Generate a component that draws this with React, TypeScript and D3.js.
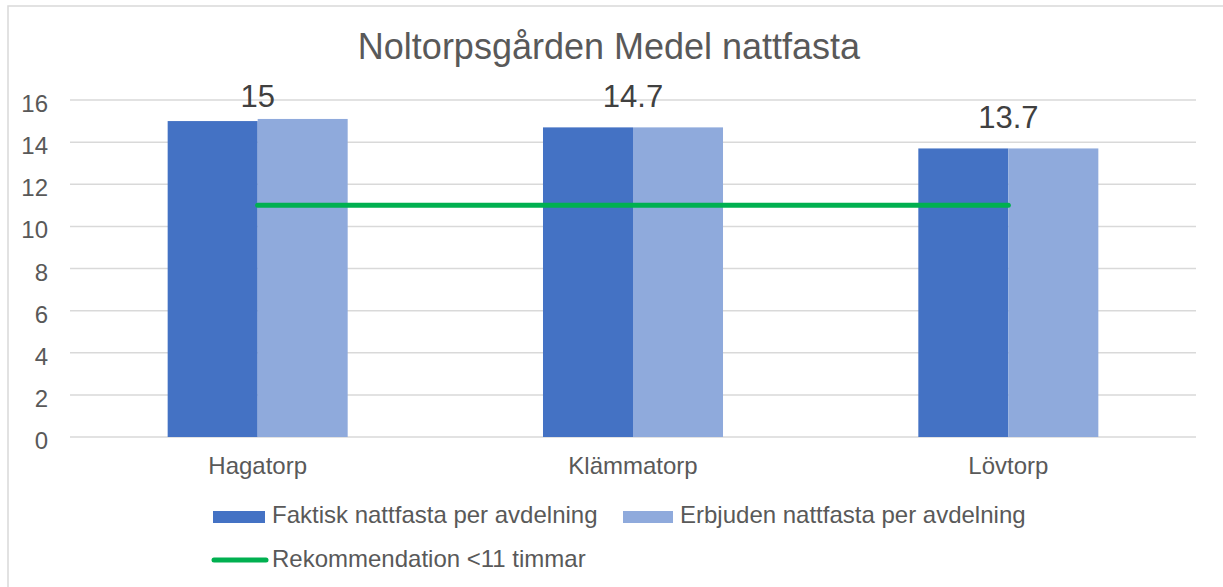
import * as d3 from "d3";

// chart data
const categories = ["Hagatorp", "Klämmatorp", "Lövtorp"];
const seriesNames = ["Faktisk nattfasta per avdelning", "Erbjuden nattfasta per avdelning"];
const faktisk = [15, 14.7, 13.7];
const erbjuden = [15.1, 14.7, 13.7];
const rekommendation = [11, 11, 11];
const lineName = "Rekommendation <11 timmar";
const yTicks = [0, 2, 4, 6, 8, 10, 12, 14, 16];
const title = "Noltorpsgården Medel nattfasta";

const colors = ["#4472C4", "#8FAADC"];
const green = "#00B050";
const textGray = "#595959";
const font = "'Liberation Sans', Arial, sans-serif";

const W = 1223;
const H = 587;
const margin = { top: 100, right: 27, bottom: 150, left: 70 };

export default function App() {
  const x0 = d3
    .scaleBand<string>()
    .domain(categories)
    .range([margin.left, W - margin.right])
    .padding(0);

  const x1 = d3
    .scaleBand<string>()
    .domain(seriesNames)
    .range([0, x0.bandwidth()])
    .paddingInner(0)
    .paddingOuter(1.085);

  const y = d3
    .scaleLinear()
    .domain([0, 16])
    .range([H - margin.bottom, margin.top]);

  const values = [faktisk, erbjuden];

  const line = d3
    .line<number>()
    .x((_, i) => (x0(categories[i]) ?? 0) + x0.bandwidth() / 2)
    .y((d) => y(d));

  return (
    <svg
      width={W}
      height={H}
      style={{ position: "absolute", left: 0, top: 0, background: "#fff" }}
      fontFamily={font}
    >
      {/* chart border */}
      <rect x={8} y={6} width={W + 20} height={H + 20} fill="#fff" stroke="#d9d9d9" strokeWidth={1.5} />

      {/* title */}
      <text x={609} y={59} textAnchor="middle" fontSize={36} fill={textGray}>
        {title}
      </text>

      {/* gridlines + y ticks */}
      {yTicks.map((t) => (
        <g key={t}>
          <line
            x1={margin.left}
            x2={W - margin.right}
            y1={y(t)}
            y2={y(t)}
            stroke="#d9d9d9"
            strokeWidth={1.5}
          />
          <text x={48} y={y(t) + 12} textAnchor="end" fontSize={24} fill={textGray}>
            {t}
          </text>
        </g>
      ))}

      {/* bars */}
      {categories.map((c, ci) => (
        <g key={c} transform={`translate(${x0(c)},0)`}>
          {seriesNames.map((s, si) => (
            <rect
              key={s}
              x={x1(s)}
              y={y(values[si][ci])}
              width={x1.bandwidth()}
              height={y(0) - y(values[si][ci])}
              fill={colors[si]}
            />
          ))}
        </g>
      ))}

      {/* recommendation line */}
      <path
        d={line(rekommendation) ?? ""}
        fill="none"
        stroke={green}
        strokeWidth={5}
        strokeLinecap="round"
      />

      {/* data labels */}
      {categories.map((c, ci) => (
        <text
          key={c}
          x={(x0(c) ?? 0) + x0.bandwidth() / 2}
          y={Math.max(y(faktisk[ci]) - 20, y(16) + 7)}
          textAnchor="middle"
          fontSize={31}
          fill="#404040"
        >
          {faktisk[ci]}
        </text>
      ))}

      {/* category labels */}
      {categories.map((c) => (
        <text
          key={c}
          x={(x0(c) ?? 0) + x0.bandwidth() / 2}
          y={474}
          textAnchor="middle"
          fontSize={24}
          fill={textGray}
        >
          {c}
        </text>
      ))}

      {/* legend */}
      <rect x={213} y={511} width={52} height={12} fill={colors[0]} />
      <text x={272} y={523} fontSize={24} fill={textGray}>
        {seriesNames[0]}
      </text>
      <rect x={623} y={511} width={50} height={12} fill={colors[1]} />
      <text x={680} y={523} fontSize={24} fill={textGray}>
        {seriesNames[1]}
      </text>
      <line x1={214} x2={266} y1={560} y2={560} stroke={green} strokeWidth={5} strokeLinecap="round" />
      <text x={272} y={567} fontSize={24} fill={textGray}>
        {lineName}
      </text>
    </svg>
  );
}
